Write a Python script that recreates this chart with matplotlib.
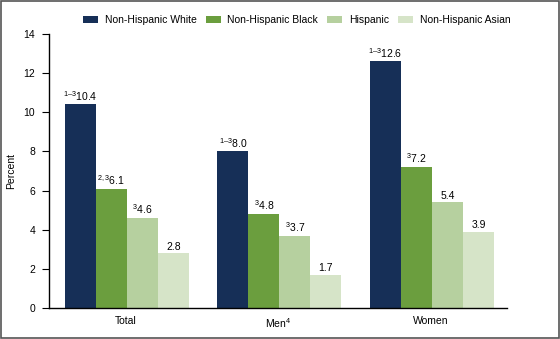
import matplotlib
matplotlib.use('Agg')
import matplotlib.pyplot as plt
import numpy as np
from matplotlib.patches import Rectangle

plt.rcParams['font.family'] = ['Liberation Sans', 'DejaVu Sans']
plt.rcParams['mathtext.fontset'] = 'custom'
plt.rcParams['mathtext.rm'] = 'Liberation Sans'
plt.rcParams['mathtext.it'] = 'Liberation Sans'
plt.rcParams['mathtext.default'] = 'regular'

categories = ['Total', 'Men$^4$', 'Women']
series = ['Non-Hispanic White', 'Non-Hispanic Black', 'Hispanic', 'Non-Hispanic Asian']
white = [10.4, 8.0, 12.6]
black = [6.1, 4.8, 7.2]
hispanic = [4.6, 3.7, 5.4]
asian = [2.8, 1.7, 3.9]
sups = [
    ['1\u20133', '1\u20133', '1\u20133'],
    ['2,3', '3', '3'],
    ['3', '3', ''],
    ['', '', ''],
]
colors = ['#162f57', '#6b9e3e', '#b6d09f', '#d6e4c8']

fs = 7.5
fig = plt.figure(figsize=(5.6, 3.39), dpi=100)
ax = fig.add_axes([0.0875, 0.0914, 0.8175, 0.8086])

x = np.arange(len(categories))
w = 0.203
values = [white, black, hispanic, asian]
for i, (vals, col, name) in enumerate(zip(values, colors, series)):
    pos = x + (i - 1.5) * w + 0.01
    ax.bar(pos, vals, width=w, color=col, label=name)
    for p, v, s in zip(pos, vals, sups[i]):
        lab = (f'$^{{{s}}}$' if s else '') + f'{v:.1f}'
        ax.text(p, v + 0.08, lab, ha='center', va='bottom', fontsize=fs)

ax.set_xlim(-0.5, 2.5)
ax.set_ylim(0, 14)
ax.set_yticks(range(0, 15, 2))
ax.set_xticks(x)
ax.set_xticklabels(categories, fontsize=fs)
ax.tick_params(axis='y', labelsize=fs, length=5, width=0.8, direction='out', pad=5)
ax.tick_params(axis='x', length=0, pad=6)
ax.spines['top'].set_visible(False)
ax.spines['right'].set_visible(False)
ax.spines['left'].set_linewidth(1.0)
ax.spines['bottom'].set_linewidth(1.0)
ax.set_ylabel('Percent', fontsize=fs)
ax.yaxis.set_label_coords(-0.072, 0.5)

fig.legend(loc='center', bbox_to_anchor=(0.53, 0.94), ncol=4, frameon=False,
           fontsize=fs, handlelength=1.4, handleheight=0.6, columnspacing=0.9,
           handletextpad=0.65)

fig.patches.append(Rectangle((0.002, 0.003), 0.996, 0.994, transform=fig.transFigure,
                             fill=False, edgecolor='#555555', linewidth=1.2))

fig.savefig('out.png', dpi=100)
